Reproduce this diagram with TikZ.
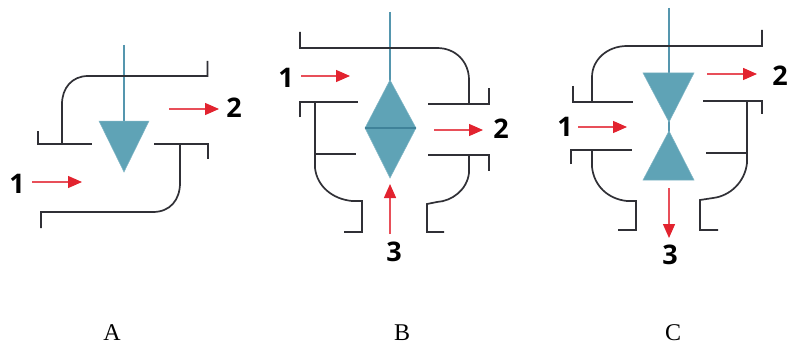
\documentclass[tikz,border=0pt]{standalone}
\usepackage{fontspec}
\setmainfont{Liberation Serif}
\newfontfamily\digitfont{Open Sans}
\usetikzlibrary{arrows.meta}
\definecolor{pipecol}{HTML}{303036}
\definecolor{tealfill}{HTML}{5FA3B6}
\definecolor{stemcol}{HTML}{5596AE}
\definecolor{midcol}{HTML}{3F8299}
\definecolor{flowred}{HTML}{E2232F}
\tikzset{
  x=1pt,y=-1pt,
  pipe/.style={draw=pipecol,line width=1.7pt,line join=miter},
  stem/.style={draw=stemcol,line width=1.4pt},
  valve/.style={fill=tealfill,draw=tealfill!80!white,line width=.5pt,line join=miter},
  flow/.style={draw=flowred!80!white,line width=1.4pt,-{Triangle[length=14pt,width=12pt,color=flowred]}},
  digit/.style={font=\digitfont\bfseries\fontsize{27}{27}\selectfont,text=black,inner sep=0pt},
  caption/.style={font=\fontsize{24}{24}\selectfont,text=black,inner sep=0pt}
}
\begin{document}
\begin{tikzpicture}
\useasboundingbox (0,0) rectangle (790,345);
\fill[white] (0,0) rectangle (790,345);
% ---------- A ----------
\draw[stem] (124,45) -- (124,122);
\draw[pipe] (207.5,61) -- (207.5,76) -- (88,76) .. controls (72,76) and (62,88) .. (62,104) -- (62,144);
\draw[pipe] (38,131) -- (38,144) -- (92,144);
\draw[pipe] (154,144) -- (208,144) -- (208,159);
\draw[pipe] (180,144) -- (180,183) .. controls (180,200) and (170,212) .. (153,212) -- (41,212) -- (41,228);
\path[valve] (99,121) -- (149,121) -- (124,172) -- cycle;
\node[digit] (a1) at (17,184) {1};
\node[digit] (a2) at (234,108) {2};
\coordinate (a1s) at (32,182);
\coordinate (a1e) at (82,182);
\coordinate (a2s) at (169,109);
\coordinate (a2e) at (219,109);
\draw[flow] (a1s) -- (a1e);
\draw[flow] (a2s) -- (a2e);
\node[caption] (capA) at (112,333) {A};
% ---------- B ----------
\draw[stem] (390,12) -- (390,81);
\draw[pipe] (300,32) -- (300,48) -- (437,48) .. controls (456,48) and (469,62) .. (469,80) -- (469,104);
\draw[pipe] (428,104) -- (489,104) -- (489,88);
\draw[pipe] (300,117) -- (300,102) -- (358,102);
\draw[pipe] (315,102) -- (315,168) .. controls (317,186) and (332,199) .. (352,201) -- (362,201) -- (362,232) -- (344,232);
\draw[pipe] (315,154) -- (356,154);
\draw[pipe] (428,155) -- (489,155) -- (489,171);
\draw[pipe] (469,155) -- (469,173) .. controls (467,190) and (452,201) .. (437,202) -- (427,204) -- (427,232) -- (444,232);
\path[valve] (390,80) -- (416,128) -- (390,178) -- (365,128) -- cycle;
\draw[draw=midcol,line width=1.3pt] (365,128) -- (416,128);
\node[digit] (b1) at (286,78) {1};
\node[digit] (b2) at (501,129) {2};
\node[digit] (b3) at (394,252) {3};
\coordinate (b1s) at (301,76);
\coordinate (b1e) at (350,76);
\coordinate (b2s) at (434,130);
\coordinate (b2e) at (483,130);
\coordinate (b3s) at (390,234);
\coordinate (b3e) at (390,184);
\draw[flow] (b1s) -- (b1e);
\draw[flow] (b2s) -- (b2e);
\draw[flow] (b3s) -- (b3e);
\node[caption] (capB) at (402,333) {B};
% ---------- C ----------
\draw[stem] (669,8) -- (669,74);
\draw[stem] (669,120) -- (669,133);
\draw[pipe] (762,30) -- (762,46) -- (627,46) .. controls (607,46) and (592,60) .. (592,77) -- (592,102);
\draw[pipe] (573,86) -- (573,102) -- (633,102);
\draw[pipe] (571,164) -- (571,150) -- (632,150);
\draw[pipe] (592,150) -- (592,167) .. controls (594,186) and (608,199) .. (627,201) -- (636,201) -- (636,230) -- (618,230);
\draw[pipe] (703,101) -- (762,101) -- (762,114);
\draw[pipe] (747,101) -- (747,163) .. controls (745,182) and (730,196) .. (713,198) -- (700,200) -- (700,230) -- (718,230);
\draw[pipe] (706,153) -- (747,153);
\path[valve] (643,73) -- (694,73) -- (669,122) -- cycle;
\path[valve] (669,131) -- (694,180) -- (643,180) -- cycle;
\node[digit] (c1) at (565,127) {1};
\node[digit] (c2) at (780,76) {2};
\node[digit] (c3) at (670,255) {3};
\coordinate (c1s) at (578,127);
\coordinate (c1e) at (627,127);
\coordinate (c2s) at (707,74);
\coordinate (c2e) at (757,74);
\coordinate (c3s) at (669,188);
\coordinate (c3e) at (669,238);
\draw[flow] (c1s) -- (c1e);
\draw[flow] (c2s) -- (c2e);
\draw[flow] (c3s) -- (c3e);
\node[caption] (capC) at (673,333) {C};
\end{tikzpicture}
\end{document}
